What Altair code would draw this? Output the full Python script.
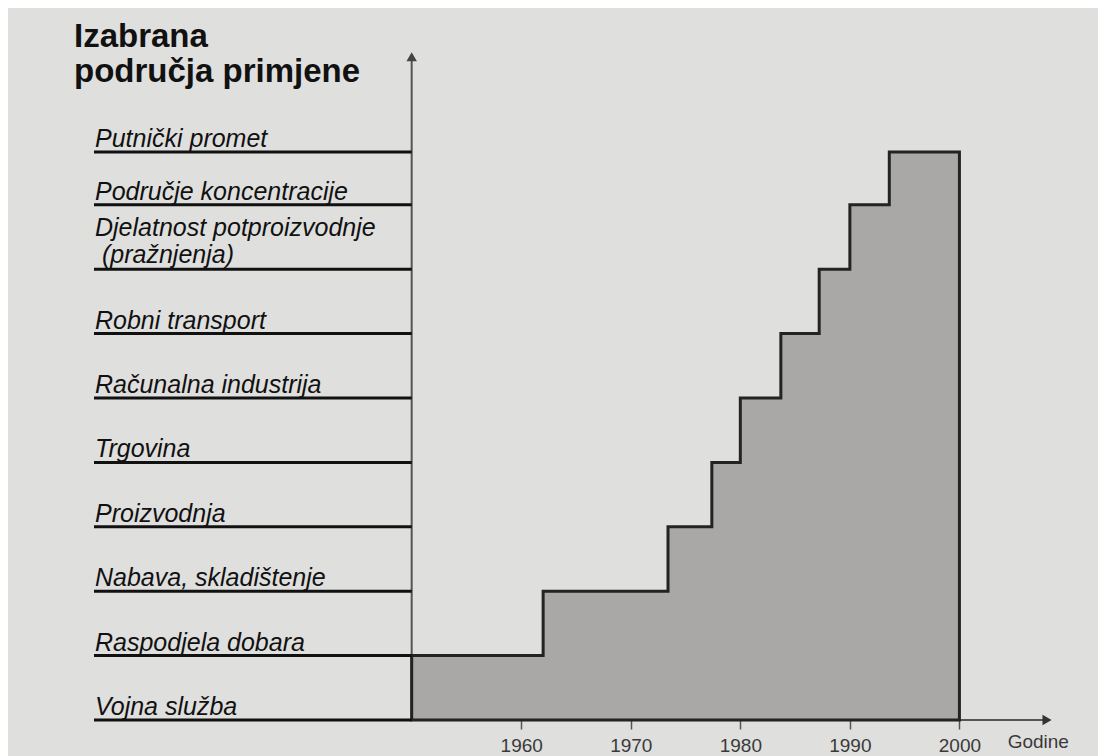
import altair as alt
import pandas as pd

# ---------------- data ----------------
categories = [
    "Vojna služba",
    "Raspodjela dobara",
    "Nabava, skladištenje",
    "Proizvodnja",
    "Trgovina",
    "Računalna industrija",
    "Robni transport",
    "Djelatnost potproizvodnje",
    "Područje koncentracije",
    "Putnički promet",
]
# second text line under a category name (empty if none)
category_second_lines = ["", "", "", "", "", "", "", "(pražnjenja)", "", ""]
category_levels = [0, 1, 2, 3, 4, 5, 6, 7, 8, 8.82]

step_years = [1950, 1962, 1973.4, 1977.4, 1980, 1983.7, 1987.2, 1990, 1993.6, 2000]
step_levels = [1, 2, 3, 4, 5, 6, 7, 8, 8.82, 8.82]

tick_years = [1960, 1970, 1980, 1990, 2000]
title_lines = ["Izabrana", "područja primjene"]
x_axis_label = "Godine"

# axis geometry (in data units)
X_MIN, X_MAX = 1921, 2009
Y_MIN, Y_MAX = 0, 10.559
ORIGIN_YEAR = 1950
X_ARROW_YEAR = 2008.0
Y_ARROW_LEVEL = 10.3
LABEL_START = 1921
GODINE_YEAR = 2007.2

FONT = "Liberation Sans"

xscale = alt.Scale(domain=[X_MIN, X_MAX], nice=False, zero=False)
yscale = alt.Scale(domain=[Y_MIN, Y_MAX], nice=False, zero=False)
xaxis = alt.Axis(values=tick_years, domain=False, grid=False, ticks=True, tickSize=9,
                 tickColor="#555", tickWidth=1.5, labelFontSize=19, labelFont=FONT,
                 labelColor="#3a3a3a", labelPadding=7, title=None, format="d")


def X(field):
    return alt.X(field, type="quantitative", scale=xscale, axis=xaxis)


def Y(field):
    return alt.Y(field, type="quantitative", scale=yscale, axis=None)


steps = pd.DataFrame({"x": step_years, "y": step_levels})
cats = pd.DataFrame({"label": categories, "label2": category_second_lines,
                     "y": category_levels,
                     "x": [LABEL_START] * len(categories),
                     "x2": [ORIGIN_YEAR] * len(categories)})
axis_lines = pd.DataFrame({"x": [ORIGIN_YEAR, ORIGIN_YEAR], "x2": [ORIGIN_YEAR, X_ARROW_YEAR],
                           "y": [0, 0], "y2": [Y_ARROW_LEVEL, 0]})
up_arrow = pd.DataFrame({"x": [ORIGIN_YEAR], "y": [Y_ARROW_LEVEL]})
right_arrow = pd.DataFrame({"x": [X_ARROW_YEAR], "y": [0]})
godine = pd.DataFrame({"x": [GODINE_YEAR], "y": [0], "label": [x_axis_label]})

axes_layer = alt.Chart(axis_lines).mark_rule(color="#555", strokeWidth=2).encode(
    x=X("x"), x2="x2", y=Y("y"), y2="y2")

area = alt.Chart(steps).mark_area(
    interpolate="step-after", color="#a9a8a6", stroke="#232323", strokeWidth=3,
    strokeJoin="miter").encode(x=X("x"), y=Y("y"))

cat_rules = alt.Chart(cats).mark_rule(color="#111", strokeWidth=3).encode(
    x=X("x"), x2="x2", y=Y("y"))

text_style = dict(align="left", baseline="alphabetic", font=FONT, fontSize=25,
                  fontStyle="italic", color="#111")

# single-line labels, and first line of two-line labels
cat_text_one = alt.Chart(cats).transform_filter("datum.label2 == ''").mark_text(
    dx=1, dy=-5, **text_style).encode(x=X("x"), y=Y("y"), text="label:N")
cat_text_first = alt.Chart(cats).transform_filter("datum.label2 != ''").mark_text(
    dx=1, dy=-33, **text_style).encode(x=X("x"), y=Y("y"), text="label:N")
cat_text_second = alt.Chart(cats).transform_filter("datum.label2 != ''").mark_text(
    dx=8, dy=-6, **text_style).encode(x=X("x"), y=Y("y"), text="label2:N")

up = alt.Chart(up_arrow).mark_point(shape="triangle-up", filled=True, size=110,
                                    color="#444", opacity=1).encode(x=X("x"), y=Y("y"))
right = alt.Chart(right_arrow).mark_point(shape="triangle-right", filled=True, size=110,
                                          color="#333", opacity=1).encode(x=X("x"), y=Y("y"))

godine_text = alt.Chart(godine).mark_text(
    align="center", baseline="middle", dy=22, font=FONT, fontSize=19, color="#3a3a3a").encode(
    x=X("x"), y=Y("y"), text="label:N")

chart = alt.layer(axes_layer, area, cat_rules, cat_text_one, cat_text_first, cat_text_second,
                  up, right, godine_text).properties(
    width=964, height=680,
    padding={"left": 86, "top": 32, "right": 40, "bottom": 36},
    autosize=alt.AutoSizeParams(type="none"),
    title=alt.TitleParams(text=title_lines, anchor="start", frame="group", font=FONT,
                          fontSize=33, fontWeight="bold", color="#111", lineHeight=35,
                          baseline="top", offset=-49, dx=-20),
).configure(background="#dfdfde").configure_view(stroke=None)

chart.save("out.html", embed_options={"renderer": "svg", "actions": False})
